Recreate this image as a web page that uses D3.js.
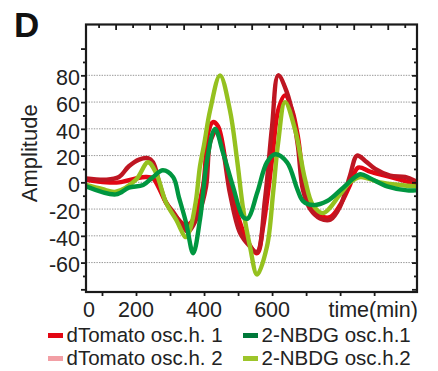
<!DOCTYPE html>
<html>
<head>
<meta charset="utf-8">
<script src="https://cdn.jsdelivr.net/npm/d3@7"></script>
<style>
  body { margin: 0; background: #fff; }
  svg { display: block; font-family: "Liberation Sans", Arial, sans-serif; }
</style>
</head>
<body>
<svg id="chart" width="438" height="371"></svg>
<script>
// --- data ---
const tomato1Time = [53, 112, 150, 200, 229, 250, 265, 288, 318, 347, 368, 397, 412, 426, 441, 468, 497, 526, 556, 574, 600, 618, 638, 659, 676, 691, 712, 741, 771, 800, 829, 853, 888, 932, 976, 1021];
const tomato1Amp  = [2, 0, 0, 3, 4, 3, -3, -15, -26, -32, -28, -3, 37, 45, 42, 9, -23, -43, -53, -33, 17, 54, 65, 54, 34, 5, -18, -25, -26, -17, -2, 11, 8, 5, 2, -1];

const tomato2Time = [53, 112, 150, 179, 209, 235, 250, 268, 288, 309, 338, 353, 385, 406, 418, 435, 453, 476, 506, 535, 556, 579, 600, 618, 644, 662, 676, 691, 712, 741, 771, 800, 829, 850, 874, 903, 947, 991, 1021];
const tomato2Amp  = [3, 2, 4, 12, 17, 18, 15, 0, -15, -22, -33, -37, -23, -3, 30, 38, 27, -8, -38, -48, -52, -13, 42, 80, 67, 49, 27, -6, -20, -27, -28, -18, 5, 20, 16, 10, 5, 4, 1];

const nbdg1Time = [53, 141, 179, 221, 250, 279, 309, 326, 347, 368, 388, 409, 432, 456, 485, 515, 529, 556, 585, 609, 644, 674, 691, 721, 762, 809, 859, 888, 938, 997, 1021];
const nbdg1Amp  = [-3, -9, -4, -2, 4, 9, 4, -11, -30, -53, -28, 17, 40, 22, -3, -26, -27, -8, 15, 21, 15, -5, -14, -17, -14, -4, 6, 3, -3, -6, -6];

const nbdg2Time = [53, 100, 141, 200, 235, 259, 288, 318, 347, 359, 376, 388, 400, 418, 447, 476, 497, 515, 535, 556, 585, 603, 618, 638, 668, 697, 720, 750, 800, 829, 859, 918, 976, 1021];
const nbdg2Amp  = [-2, -5, -7, 2, 15, 7, -15, -28, -41, -35, -14, 12, 28, 54, 80, 54, 17, -20, -48, -69, -48, -8, 30, 60, 39, 2, -17, -23, -9, 0, 4, 0, -2, -3];

const seriesNames  = ["dTomato osc.h. 1", "dTomato osc.h. 2", "2-NBDG osc.h.1", "2-NBDG osc.h.2"];
const lineColors   = ["#e30613", "#be1622", "#009640", "#95c11f"];
const legendColors = ["#e30613", "#f29fa5", "#00793a", "#9dc52a"];

const yLabels = [-60, -40, -20, 0, 20, 40, 60, 80];
const xLabels = [0, 200, 400, 600];
const xTitle = "time(min)";
const yTitle = "Amplitude";
const panel = "D";

// --- layout ---
const W = 438, H = 371;
const margin = { top: 24.5, right: 21, bottom: 79, left: 86 };
const svg = d3.select("#chart");

const x = d3.scaleLinear().domain([53, 1026]).range([margin.left, W - margin.right]);
const y = d3.scaleLinear().domain([-82, 118]).range([H - margin.bottom, margin.top]);
const [x0, x1] = x.range();
const [y0, y1] = y.range(); // y0 bottom, y1 top

svg.append("rect").attr("width", W).attr("height", H).attr("fill", "#fff");

// gridlines
svg.append("g").selectAll("line")
  .data(yLabels)
  .join("line")
  .attr("x1", x0).attr("x2", x1)
  .attr("y1", d => y(d)).attr("y2", d => y(d))
  .attr("stroke", "#8a8a8a")
  .attr("stroke-width", 0.9)
  .attr("stroke-dasharray", "1.4,1.2");

// curves
svg.append("clipPath").attr("id", "plotclip")
  .append("rect").attr("x", x0).attr("y", y1).attr("width", x1 - x0).attr("height", y0 - y1);

const series = [
  { t: tomato1Time, v: tomato1Amp },
  { t: tomato2Time, v: tomato2Amp },
  { t: nbdg2Time, v: nbdg2Amp },
  { t: nbdg1Time, v: nbdg1Amp },
];
const seriesColor = [lineColors[0], lineColors[1], lineColors[3], lineColors[2]];

const line = d3.line()
  .x(d => x(d[0]))
  .y(d => y(d[1]))
  .curve(d3.curveCatmullRom.alpha(0.5));

svg.append("g").attr("clip-path", "url(#plotclip)")
  .selectAll("path")
  .data(series)
  .join("path")
  .attr("d", s => line(d3.zip(s.t, s.v)))
  .attr("fill", "none")
  .attr("stroke", (s, i) => seriesColor[i])
  .attr("stroke-width", 4.4)
  .attr("stroke-linejoin", "round")
  .attr("stroke-linecap", "round");

// axes ticks
const yTicks = d3.range(-80, 101, 10);
const leftAxis = svg.append("g").attr("transform", `translate(${x0},0)`)
  .call(d3.axisLeft(y).tickValues(yTicks).tickFormat(""));
leftAxis.select(".domain").remove();
leftAxis.selectAll(".tick line").attr("x2", d => d % 20 === 0 ? -5 : -3);

const rightAxis = svg.append("g").attr("transform", `translate(${x1},0)`)
  .call(d3.axisRight(y).tickValues(yTicks).tickFormat(""));
rightAxis.select(".domain").remove();
rightAxis.selectAll(".tick line").attr("x2", d => d % 20 === 0 ? -5 : -3);

const bottomAxis = svg.append("g").attr("transform", `translate(0,${y0})`)
  .call(d3.axisBottom(x).tickValues(d3.range(100, 1000, 100)).tickFormat(""));
bottomAxis.select(".domain").remove();
bottomAxis.selectAll(".tick line").attr("y2", 4);

const topAxis = svg.append("g").attr("transform", `translate(0,${y1})`)
  .call(d3.axisTop(x).tickValues(d3.range(90, 1000, 50)).tickFormat(""));
topAxis.select(".domain").remove();
topAxis.selectAll(".tick line").attr("y2", d => (d - 140) % 100 === 0 ? 5.5 : 3.5);

svg.selectAll(".tick line").attr("stroke", "#1a1a1a").attr("stroke-width", 1.8);

// frame
svg.append("rect")
  .attr("x", x0).attr("y", y1)
  .attr("width", x1 - x0).attr("height", y0 - y1)
  .attr("fill", "none")
  .attr("stroke", "#1a1a1a")
  .attr("stroke-width", 2.2);

// tick labels
const fs = 21.5;
svg.append("g").selectAll("text")
  .data(yLabels)
  .join("text")
  .attr("x", x0 - 6)
  .attr("y", d => y(d))
  .attr("dy", "0.45em")
  .attr("text-anchor", "end")
  .attr("font-size", fs)
  .attr("fill", "#222")
  .text(d => d);

svg.append("g").selectAll("text")
  .data(xLabels)
  .join("text")
  .attr("x", d => Math.max(x(d), x0 + 3))
  .attr("y", y0 + 25)
  .attr("text-anchor", "middle")
  .attr("font-size", fs)
  .attr("fill", "#222")
  .text(d => d);

svg.append("text")
  .attr("x", x1 + 1)
  .attr("y", y0 + 25)
  .attr("text-anchor", "end")
  .attr("font-size", fs)
  .attr("fill", "#222")
  .text(xTitle);

svg.append("text")
  .attr("transform", `translate(37,${(y0 + y1) / 2 - 5}) rotate(-90)`)
  .attr("text-anchor", "middle")
  .attr("font-size", 22)
  .attr("fill", "#222")
  .text(yTitle);

svg.append("text")
  .attr("x", 14).attr("y", 37)
  .attr("font-size", 35)
  .attr("font-weight", "bold")
  .attr("fill", "#111")
  .text(panel);

// legend
const legendCol = [48, 243], legendRow = [335.5, 358.5];
const legend = svg.append("g").selectAll("g")
  .data(seriesNames)
  .join("g")
  .attr("transform", (d, i) => `translate(${legendCol[i >> 1]},${legendRow[i & 1]})`);
legend.append("line")
  .attr("x1", 0).attr("x2", 15)
  .attr("stroke", (d, i) => legendColors[i])
  .attr("stroke-width", 5);
legend.append("text")
  .attr("x", 18.5)
  .attr("y", 6.5)
  .attr("font-size", 20.5)
  .attr("fill", "#222")
  .text(d => d);
</script>
</body>
</html>
